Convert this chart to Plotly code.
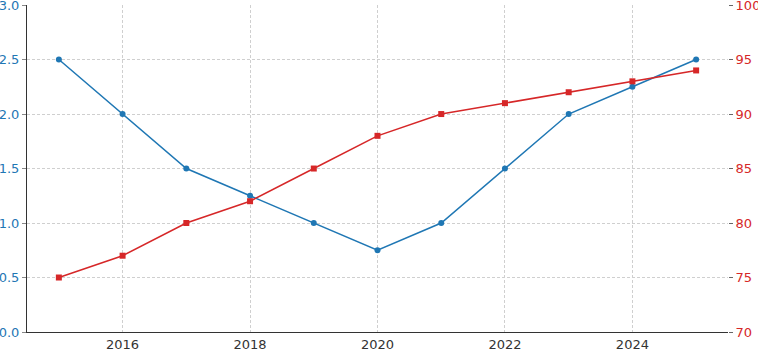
import plotly.graph_objects as go

years = [2015, 2016, 2017, 2018, 2019, 2020, 2021, 2022, 2023, 2024, 2025]
left_values = [2.5, 2.0, 1.5, 1.25, 1.0, 0.75, 1.0, 1.5, 2.0, 2.25, 2.5]
right_values = [75, 77, 80, 82, 85, 88, 90, 91, 92, 93, 94]
x_ticks = [2016, 2018, 2020, 2022, 2024]
left_ticks = [0.0, 0.5, 1.0, 1.5, 2.0, 2.5, 3.0]
right_ticks = [70, 75, 80, 85, 90, 95, 100]

blue = "#1f77b4"
red = "#d62728"
font = "DejaVu Sans"

fig = go.Figure()
fig.add_trace(go.Scatter(x=years, y=left_values, mode="lines+markers",
                         line=dict(color=blue, width=1.5),
                         marker=dict(symbol="circle", size=6, color=blue),
                         yaxis="y", showlegend=False, cliponaxis=False))
fig.add_trace(go.Scatter(x=years, y=right_values, mode="lines+markers",
                         line=dict(color=red, width=1.5),
                         marker=dict(symbol="square", size=6, color=red),
                         yaxis="y2", showlegend=False, cliponaxis=False))

grid = dict(showgrid=True, gridcolor="#cfcfcf", griddash="3px,2px", gridwidth=0.8)
fig.update_layout(
    width=758, height=356,
    margin=dict(l=27, r=30, t=5, b=24, autoexpand=False),
    plot_bgcolor="white", paper_bgcolor="white",
    font=dict(family=font, size=13, color="#333333"),
    xaxis=dict(range=[2014.5, 2025.5], tickvals=x_ticks, ticks="",
               showline=True, linecolor="#333", ticklabeloverflow="allow",
               linewidth=1, zeroline=False, automargin=False, **grid),
    yaxis=dict(range=[0, 3.0005], tickvals=left_ticks, ticktext=[f"{v:.1f}" for v in left_ticks],
               ticks="outside", ticklen=4, tickcolor="#888", ticklabeloverflow="allow",
               tickfont=dict(color=blue, size=13), showline=True, linecolor="#333",
               linewidth=1, zeroline=False, automargin=False, **grid),
    yaxis2=dict(range=[70, 100.005], tickvals=right_ticks, overlaying="y", side="right",
                ticks="outside", ticklen=4, tickcolor="#666", ticklabeloverflow="allow",
                tickfont=dict(color=red, size=13), showline=False,
                zeroline=False, showgrid=False, automargin=False),
)
fig.write_html("out.html", config={"displayModeBar": False},
               post_script="document.body.style.margin='0';document.body.style.overflow='hidden';")
